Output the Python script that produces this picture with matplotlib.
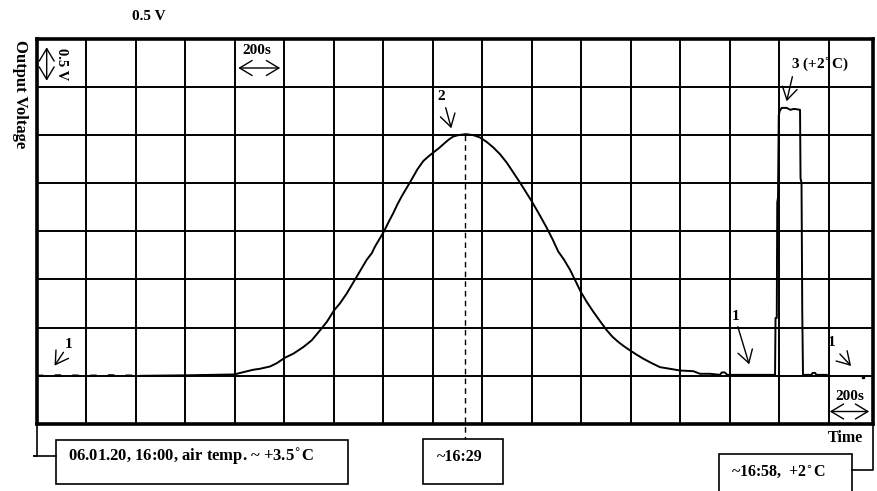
import matplotlib
matplotlib.use("Agg")
import matplotlib.pyplot as plt
from matplotlib.patches import Rectangle
from matplotlib.lines import Line2D

## data (time in s from 16:00, output voltage in V)
start_t = [0, 100, 200, 300, 420]
start_v = [0.5, 0.505, 0.5, 0.505, 0.5]

trace_t = [420, 600, 797, 875, 902, 943, 970, 1003, 1037, 1077, 1111, 1145, 1172, 1202, 1225,
           1253, 1273, 1293, 1313, 1333, 1354, 1367, 1403, 1421, 1441, 1457, 1475, 1495, 1515,
           1538, 1562, 1582, 1602, 1623, 1643, 1663, 1683, 1703, 1731, 1737, 1764, 1791, 1818,
           1845, 1872, 1899, 1926, 1953, 1977, 2000, 2031, 2061, 2085, 2107, 2131, 2155, 2175,
           2198, 2222, 2249, 2276, 2303, 2327, 2350, 2373, 2397, 2424, 2451, 2485, 2518, 2558,
           2599, 2653, 2680, 2721, 2760, 2768, 2780, 2790, 2983, 2985, 2990, 2992, 2995, 2998,
           3002, 3010, 3030, 3045, 3060, 3084, 3086, 3090, 3093, 3096, 3130, 3135, 3145, 3150,
           3192]
trace_v = [0.5, 0.505, 0.514, 0.563, 0.573, 0.597, 0.631, 0.688, 0.73, 0.798, 0.868, 0.973,
           1.059, 1.181, 1.251, 1.356, 1.442, 1.529, 1.616, 1.703, 1.773, 1.842, 1.998, 2.092,
           2.19, 2.277, 2.364, 2.451, 2.538, 2.642, 2.729, 2.775, 2.816, 2.858, 2.903, 2.948,
           2.983, 2.997, 3.007, 3.007, 2.997, 2.973, 2.927, 2.869, 2.799, 2.712, 2.608, 2.503,
           2.405, 2.311, 2.173, 2.034, 1.912, 1.79, 1.703, 1.599, 1.494, 1.372, 1.268, 1.164,
           1.067, 0.973, 0.903, 0.851, 0.806, 0.764, 0.719, 0.677, 0.631, 0.59, 0.573, 0.555,
           0.548, 0.521, 0.521, 0.51, 0.535, 0.535, 0.51, 0.51, 1.1, 1.1, 2.3, 2.35, 3.2, 3.25,
           3.28, 3.28, 3.26, 3.27, 3.26, 2.55, 2.5, 1.15, 0.51, 0.51, 0.53, 0.53, 0.51, 0.51]

dot_t = [3340]
dot_v = [0.486]

peak2_t = 1731
peak2_v = 3.0

t_step = 200     # s per division
v_step = 0.5     # V per division
t_max = 3380
v_max = 4.0

W, H = 877, 491
fig = plt.figure(figsize=(W / 100, H / 100), dpi=100)
plt.rcParams['font.family'] = ['Liberation Serif', 'DejaVu Serif']

def px(x, y):
    return (x / W, 1 - y / H)

ax = fig.add_axes([36.7 / W, 1 - 424 / H, (873.3 - 36.7) / W, (424 - 38.5) / H])
ax.set_xlim(0, t_max)
ax.set_ylim(0, v_max)
ax.set_xticks([i * t_step for i in range(1, 17)])
ax.set_yticks([i * v_step for i in range(1, 8)])
ax.grid(True, color="black", lw=1.4)
ax.tick_params(length=0, labelbottom=False, labelleft=False)
for s in ax.spines.values():
    s.set_linewidth(2.6)

ax.plot(start_t, start_v, color="black", lw=1.6, dashes=(3, 5))
ax.plot(trace_t, trace_v, color="black", lw=1.4)
ax.plot(dot_t, dot_v, "s", color="black", ms=2)

bold = dict(fontweight="bold", color="black")
arrow = dict(arrowstyle="->,head_length=0.5,head_width=0.3", color="black", lw=1.0, mutation_scale=18)
darrow = dict(arrowstyle="<->,head_length=0.5,head_width=0.3", color="black", lw=1.0, mutation_scale=18)

# scale marks inside the screen
ax.annotate("", xy=(46.7 / W, 1 - 83.5 / H), xytext=(46.7 / W, 1 - 44.5 / H),
            xycoords="figure fraction", arrowprops=darrow)
fig.text(*px(62, 64), "0.5 V", rotation=-90, ha="center", va="center", fontsize=10.5, **bold)
ax.annotate("", xy=(283 / W, 1 - 68 / H), xytext=(235.5 / W, 1 - 68 / H),
            xycoords="figure fraction", arrowprops=darrow)
fig.text(*px(257, 50), "200s", ha="center", va="center", fontsize=11, **bold)
ax.annotate("", xy=(872 / W, 1 - 411.5 / H), xytext=(827 / W, 1 - 411.5 / H),
            xycoords="figure fraction", arrowprops=darrow)
fig.text(*px(850, 396), "200s", ha="center", va="center", fontsize=11, **bold)

# peak markers
ax.annotate("", xy=px(452, 131), xytext=px(445, 105), xycoords="figure fraction", arrowprops=arrow)
fig.text(*px(441, 96), "2", ha="center", va="center", fontsize=11, **bold)
ax.annotate("", xy=px(786, 104), xytext=px(793, 74), xycoords="figure fraction", arrowprops=arrow)
fig.text(*px(820, 64), "3 (+2$^{\\circ}$C)", ha="center", va="center", fontsize=11, **bold)
ax.annotate("", xy=px(53, 368), xytext=px(65, 350), xycoords="figure fraction", arrowprops=arrow)
fig.text(*px(69, 345), "1", ha="center", va="center", fontsize=11, **bold)
ax.annotate("", xy=px(750, 367), xytext=px(737, 324), xycoords="figure fraction", arrowprops=arrow)
fig.text(*px(736, 317), "1", ha="center", va="center", fontsize=11, **bold)
ax.annotate("", xy=px(853, 368), xytext=px(838, 352), xycoords="figure fraction", arrowprops=arrow)
fig.text(*px(832, 342), "1", ha="center", va="center", fontsize=11, **bold)

# axis titles
fig.text(*px(149, 16), "0.5 V", ha="center", va="center", fontsize=11, **bold)
fig.text(*px(20, 94), "Output Voltage", rotation=-90, ha="center", va="center", fontsize=12, **bold)
fig.text(*px(845, 438), "Time", ha="center", va="center", fontsize=11.5, **bold)

# dashed line from peak 2 down to its time box
ax.plot([peak2_t, peak2_t], [peak2_v, -0.16], color="black", lw=1.0, ls=(0, (4, 3)), clip_on=False)

# boxes with time stamps
def box(x0, y0, x1, y1):
    fig.add_artist(Rectangle(px(x0, y1), (x1 - x0) / W, (y1 - y0) / H,
                             transform=fig.transFigure, fill=False, ec="black", lw=1.2))

def line(xs, ys):
    fig.add_artist(Line2D([x / W for x in xs], [1 - y / H for y in ys],
                          transform=fig.transFigure, color="black", lw=1.2))

box(56, 440, 348, 484)
line([36.7, 36.7, 34], [425, 455.5, 455.5])
line([34, 56], [455.5, 455.5])
fig.text(*px(68, 457), "06.01.20, 16:00, air temp. ~ +3.5$^{\\circ}$C", ha="left", va="center",
         fontsize=12, **bold)

box(423.3, 439, 503.3, 484)
fig.text(*px(460, 457), "~16:29", ha="center", va="center", fontsize=11.5, **bold)

box(719.3, 454, 851.7, 500)
line([873.3, 873.3, 851.7], [425, 470, 470])
fig.text(*px(731, 472), "~16:58,  +2$^{\\circ}$C", ha="left", va="center", fontsize=11.5, **bold)

fig.savefig("out.png", dpi=100)
